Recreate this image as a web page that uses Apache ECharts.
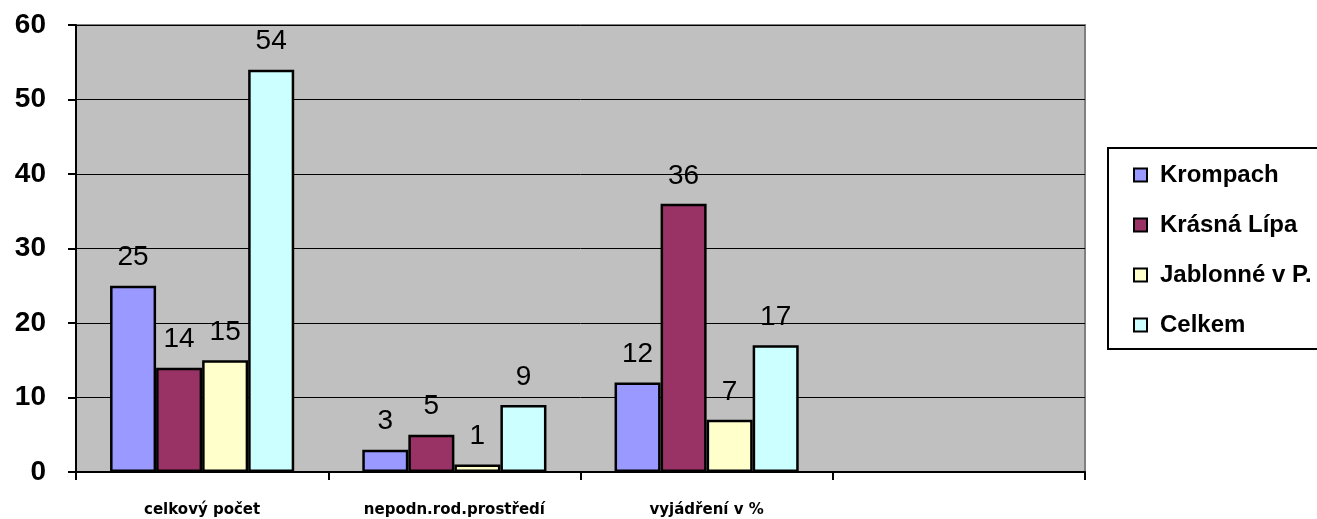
<!DOCTYPE html>
<html><head><meta charset="utf-8">
<script src="https://cdn.jsdelivr.net/npm/echarts@6/dist/echarts.min.js"></script>
<style>html,body{margin:0;padding:0;background:#fff}#c{width:1317px;height:519px}</style>
</head><body><div id="c"></div>
<script>
const categories = ['celkový počet', 'nepodn.rod.prostředí', 'vyjádření v %', ''];
const seriesNames = ['Krompach', 'Krásná Lípa', 'Jablonné v P.', 'Celkem'];
const krompach = [25, 3, 12, null];
const krasnaLipa = [14, 5, 36, null];
const jablonne = [15, 1, 7, null];
const celkem = [54, 9, 17, null];
const yTicks = [0, 10, 20, 30, 40, 50, 60];
const colors = ['#9999FF', '#993366', '#FFFFCC', '#CCFFFF'];

const values = [krompach, krasnaLipa, jablonne, celkem];
const chart = echarts.init(document.getElementById('c'));
chart.setOption({
  animation: false,
  grid: {left: 76, right: 232, top: 25, bottom: 47, show: true, backgroundColor: '#C0C0C0', borderColor: '#808080', borderWidth: 2},
  legend: {
    orient: 'vertical', left: 1128, top: 158, itemGap: 26, itemWidth: 13, itemHeight: 13, icon: 'rect',
    data: seriesNames,
    textStyle: {fontFamily: 'Liberation Sans', fontWeight: 'bold', fontSize: 24, color: '#000', padding: [0, 0, 0, 8]}
  },
  graphic: [{type: 'rect', shape: {x: 1108, y: 148, width: 230, height: 201}, style: {fill: 'none', stroke: '#000', lineWidth: 2}}],
  xAxis: {
    type: 'category', data: categories,
    axisLine: {lineStyle: {color: '#000', width: 2}},
    axisTick: {show: true, length: 8, lineStyle: {color: '#000', width: 2}},
    axisLabel: {fontFamily: 'DejaVu Sans', fontWeight: 'bold', fontSize: 15, color: '#000', margin: 31}
  },
  yAxis: {
    type: 'value', min: yTicks[0], max: yTicks[yTicks.length - 1], interval: 10,
    axisLine: {show: true, lineStyle: {color: '#000', width: 2}},
    axisTick: {show: true, length: 8, lineStyle: {color: '#000', width: 2}},
    axisLabel: {fontFamily: 'Liberation Sans', fontWeight: 'bold', fontSize: 28, color: '#000', margin: 30},
    splitLine: {lineStyle: {color: '#000', width: 1}}
  },
  series: seriesNames.map((n, i) => ({
    name: n, type: 'bar', data: values[i], barGap: '0%', barCategoryGap: '27%',
    itemStyle: {color: colors[i], borderColor: '#000', borderWidth: 2.5},
    label: {show: true, position: 'top', distance: 14, fontFamily: 'Liberation Sans', fontSize: 28, color: '#000'}
  }))
});
</script></body></html>
